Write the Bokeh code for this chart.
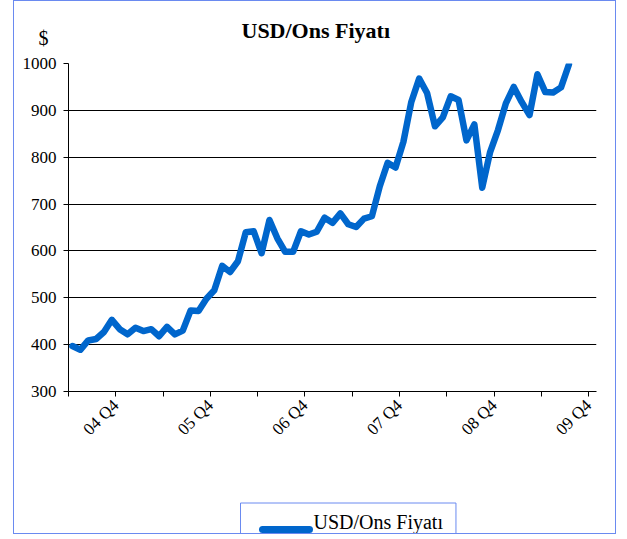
import math
from bokeh.plotting import figure
from bokeh.models import (Range1d, FixedTicker, ColumnDataSource, Title, LinearAxis)
from bokeh.embed import file_html
from bokeh.resources import INLINE

# ---- data (month-end values, Jun 2004 .. Sep 2009) ----
month_index = list(range(64))
prices = [397, 389, 409, 412, 427, 453, 433, 422, 436, 429,
          433, 418, 438, 422, 430, 473, 472, 498, 516, 568,
          555, 578, 640, 642, 595, 666, 627, 598, 598, 642,
          635, 641, 671, 660, 680, 657, 651, 669, 674, 738,
          788, 778, 833, 918, 968, 937, 866, 885, 930, 922,
          836, 870, 735, 811, 858, 915, 950, 918, 890, 977,
          939, 938, 949, 998]
tick_positions = [0, 6, 12, 18, 24, 30, 36, 42, 48, 54, 60, 66]
tick_labels = ["", "04 Q4", "", "05 Q4", "", "06 Q4", "", "07 Q4", "", "08 Q4", "", "09 Q4"]
y_ticks = [300, 400, 500, 600, 700, 800, 900, 1000]
grid_values = [400, 500, 600, 700, 800, 900]
series_name = "USD/Ons Fiyatı"
title_text = "USD/Ons Fiyatı"
unit_text = "$"

FONT = "Liberation Serif"
LINE_COLOR = "#0066CC"
BORDER_COLOR = "#6A8AF0"
NBSP = "\u00a0"

src = ColumnDataSource(dict(x=[i + 0.5 for i in month_index], y=prices))

p = figure(width=603, height=534, output_backend="svg", toolbar_location=None,
           x_range=Range1d(0, 67), y_range=Range1d(300, 1000),
           min_border_left=54, min_border_right=21, min_border_top=62,
           min_border_bottom=144, background_fill_color="white",
           border_fill_color="white")
p.outline_line_color = None
p.margin = (0, 0, 0, 13)
p.styles = {"border": f"1px solid {BORDER_COLOR}"}

r = p.line("x", "y", source=src, line_color=LINE_COLOR, line_width=6.5,
           line_join="round", line_cap="round")

# main axes
xax = p.xaxis[0]
yax = p.yaxis[0]
xax.ticker = FixedTicker(ticks=tick_positions)
xax.major_label_overrides = {t: l for t, l in zip(tick_positions, tick_labels)}
xax.major_label_orientation = math.pi / 4
yax.ticker = FixedTicker(ticks=y_ticks)
for ax in (xax, yax):
    ax.axis_line_color = "black"
    ax.axis_line_width = 1
    ax.major_tick_line_color = "black"
    ax.major_tick_in = 0
    ax.major_tick_out = 5
    ax.minor_tick_line_color = None
    ax.major_label_text_font = FONT
    ax.major_label_text_font_size = "17px"
    ax.major_label_text_color = "black"
yax.major_label_standoff = 7
xax.major_label_standoff = 6

p.xgrid.grid_line_color = None
p.ygrid.ticker = FixedTicker(ticks=grid_values)
p.ygrid.grid_line_color = "black"
p.ygrid.grid_line_width = 1

# unit label (inner panel above the frame), then chart title (outer panel)
p.add_layout(Title(text=unit_text + "\n" + NBSP, align="left", offset=-30,
                   vertical_align="bottom", standoff=-14,
                   text_font=FONT, text_font_size="20px", text_font_style="normal",
                   text_color="black"), "above")
p.add_layout(Title(text=title_text, align="left", offset=173,
                   vertical_align="bottom", standoff=-22,
                   text_font=FONT, text_font_size="22px", text_font_style="bold",
                   text_color="black"), "above")

# --- legend built below the axis ---
# blank spacer between the tick labels and the legend
p.add_layout(Title(text=NBSP, text_font_size="10px", standoff=51), "below")

# legend label with its box
p.add_layout(Title(text=NBSP * 13 + series_name + NBSP, align="left", offset=172,
                   vertical_align="bottom", standoff=-23,
                   text_font=FONT, text_font_size="20px", text_font_style="normal",
                   text_color="black", padding=8,
                   border_line_color=BORDER_COLOR, border_line_width=1,
                   background_fill_color=None), "below")

# legend swatch: a short thick line drawn by a bounded, tick-less axis
p.extra_x_ranges = {"legend_px": Range1d(0, 528)}
swatch = LinearAxis(x_range_name="legend_px", ticker=FixedTicker(ticks=[217]),
                    bounds=(194, 241), major_label_overrides={217: ""},
                    axis_line_color=LINE_COLOR, axis_line_width=7,
                    axis_line_cap="round",
                    major_tick_in=0, major_tick_out=0, minor_tick_in=0, minor_tick_out=0,
                    major_tick_line_color=None, minor_tick_line_color=None,
                    major_label_standoff=0, major_label_text_font_size="1px",
                    major_label_text_alpha=0)
p.add_layout(swatch, "below")

open("out.html", "w").write(file_html(p, INLINE))
